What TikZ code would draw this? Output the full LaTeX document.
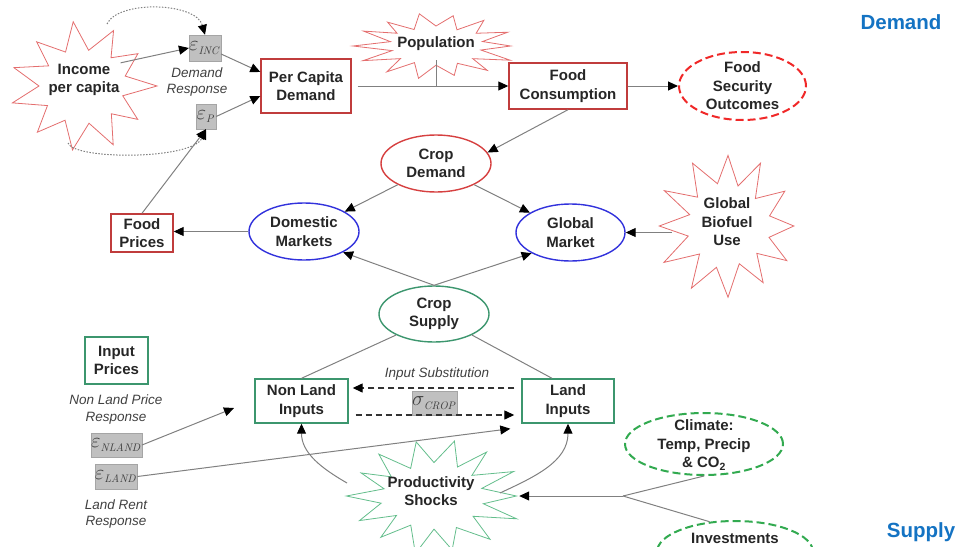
\documentclass[tikz,border=0pt]{standalone}
\usepackage[no-math]{fontspec}
\setmainfont{Liberation Sans}
\usetikzlibrary{arrows.meta,shapes.geometric}
\definecolor{starred}{RGB}{228,110,110}
\definecolor{boxred}{RGB}{192,60,60}
\definecolor{ellred}{RGB}{214,64,64}
\definecolor{dashred}{RGB}{240,40,40}
\definecolor{mktblue}{RGB}{50,50,220}
\definecolor{boxgreen}{RGB}{60,150,110}
\definecolor{stargreen}{RGB}{100,190,140}
\definecolor{dashgreen}{RGB}{50,170,80}
\definecolor{conngray}{RGB}{128,128,128}
\definecolor{titleblue}{RGB}{20,115,195}
\definecolor{epsfill}{RGB}{192,192,192}
\definecolor{epsdraw}{RGB}{165,165,165}
\definecolor{lblgray}{RGB}{64,64,64}
\newcommand\burst[7]{%
  \pgfmathsetseed{#6}%
  \draw[#7] plot[variable=\t, samples at={0,...,#5}]
   ({#1+#3*(mod(\t,2)==0 ? 1 : 0.6)*(0.88+0.14*rnd)*cos(\t*360/(#5+1))},
    {#2+#4*(mod(\t,2)==0 ? 1 : 0.6)*(0.88+0.14*rnd)*sin(\t*360/(#5+1))}) -- cycle;}
\newcommand\epsl[2]{$#1_{\scriptscriptstyle\mathit{#2}}$}
\begin{document}
\begin{tikzpicture}[x=1pt,y=-1pt,
  every node/.style={font=\fontsize{15}{18.5}\selectfont\bfseries, text=black!85, align=center},
  plain/.style={inner sep=1pt},
  redbox/.style={draw=boxred, line width=1.4pt, fill=white, inner sep=0pt},
  greenbox/.style={draw=boxgreen, line width=1.4pt, fill=white, inner sep=0pt},
  oval/.style={ellipse, line width=1.4pt, fill=white, inner sep=0pt},
  dashoval/.style={ellipse, line width=2pt, dash pattern=on 8pt off 4pt, fill=white, inner sep=0pt},
  epsbox/.style={draw=epsdraw, fill=epsfill, inner sep=0pt, text=lblgray, font=\fontsize{21}{21}\selectfont},
  ital/.style={font=\fontsize{13.5}{16.5}\selectfont\itshape, text=lblgray},
  heading/.style={font=\fontsize{20.5}{24}\selectfont\bfseries, text=titleblue},
  ln/.style={draw=conngray, line width=1pt},
  arr/.style={ln, -{Triangle[length=10pt,width=9pt,black]}},
  dotarr/.style={arr, draw=gray, dash pattern=on 1.5pt off 1.5pt},
  subarr/.style={draw=black!80, line width=1.3pt, dash pattern=on 6pt off 4pt, -{Triangle[length=10pt,width=9pt,black]}}
]
\useasboundingbox (0,0) rectangle (958,546);
% starbursts
\burst{83}{86}{73}{64}{21}{3}{draw=starred, line width=0.8pt, fill=white}
\burst{436}{46}{84}{34}{27}{5}{draw=starred, line width=0.8pt, fill=white}
\burst{728}{226}{73}{72}{23}{7}{draw=starred, line width=0.8pt, fill=white}
\burst{434}{496}{90}{58}{27}{9}{draw=stargreen, line width=0.8pt, fill=white}
% nodes
\node[plain] (inc) at (84,80) {Income\\per capita};
\node[epsbox, minimum width=30, minimum height=26] (einc) at (205,48) {\epsl{\varepsilon}{INC}};
\node[ital] (dresp) at (197,82) {Demand\\Response};
\node[epsbox, minimum width=20, minimum height=25] (ep) at (206,116.5) {\epsl{\varepsilon}{P}};
\node[redbox, minimum width=90, minimum height=54] (pcd) at (306,86) {Per Capita\\Demand};
\node[plain] (pop) at (436,44) {Population};
\node[redbox, minimum width=118, minimum height=46] (fc) at (568,86) {Food\\Consumption};
\node[dashoval, draw=dashred, minimum width=127, minimum height=68] (fso) at (742.5,86) {};
\node[plain] (fsot) at (742.5,86) {Food\\Security\\Outcomes};
\node[heading] (tdem) at (901,22.5) {Demand};
\node[oval, draw=ellred, minimum width=110, minimum height=57] (cd) at (436,163.5) {Crop\\Demand};
\node[oval, draw=mktblue, minimum width=110, minimum height=57] (dom) at (304,231.5) {Domestic\\Markets};
\node[oval, draw=mktblue, minimum width=109, minimum height=57] (glob) at (570.5,232.5) {Global\\Market};
\node[redbox, minimum width=62, minimum height=38] (fp) at (142,233) {Food\\Prices};
\node[plain, minimum width=110] (bio) at (727,222) {Global\\Biofuel\\Use};
\node[oval, draw=boxgreen, minimum width=110, minimum height=56] (cs) at (434,314) {Crop\\Supply};
\node[greenbox, minimum width=63, minimum height=47] (ip) at (116.5,360.5) {Input\\Prices};
\node[ital] (nlpr) at (116,409.5) {Non Land Price\\Response};
\node[epsbox, minimum width=45, minimum height=24] (enl) at (116.5,445) {\epsl{\varepsilon}{NLAND}};
\node[epsbox, minimum width=38, minimum height=25] (el) at (116,476.5) {\epsl{\varepsilon}{LAND}};
\node[ital] (lrr) at (116,514) {Land Rent\\Response};
\node[greenbox, minimum width=93, minimum height=44] (nl) at (301.5,401) {Non Land\\Inputs};
\node[greenbox, minimum width=92, minimum height=44] (li) at (568,401) {Land\\Inputs};
\node[ital] (isub) at (437,374) {Input Substitution};
\node[epsbox, minimum width=43, minimum height=24] (sig) at (434.5,403) {\epsl{\sigma}{CROP}};
\node[plain, minimum width=176] (ps) at (431,491) {Productivity\\Shocks};
\node[dashoval, draw=dashgreen, minimum width=158, minimum height=62] (cl) at (704,444) {};
\node[plain] (clt) at (704,445) {Climate:\\Temp, Precip\\\& CO\textsubscript{2}};
\node[dashoval, draw=dashgreen, minimum width=156, minimum height=62] (inv) at (735,552) {};
\node[plain] (invt) at (735,538) {Investments};
\node[heading] (tsup) at (921,532) {Supply};
% free ends
\coordinate (inctop) at (107,24);
\coordinate (incbot) at (68,143);
\coordinate (nlfree) at (234,408);
\coordinate (psl) at (347,483);
\coordinate (psr) at (500,493);
\coordinate (j) at (623,496);
% connectors
\draw[arr] (inc.north east) -- (einc.west);
\draw[dotarr] (inctop) .. controls (118,0) and (196,2) .. (einc.north);
\draw[dotarr] (incbot) .. controls (74,160) and (192,160) .. (ep.south);
\draw[arr] ([yshift=-6pt]einc.east) -- ([yshift=14pt]pcd.west);
\draw[arr] (ep.east) -- ([yshift=-10pt]pcd.west);
\draw[arr, shorten <=6pt] (pcd.east) -- (fc.west);
\draw[ln] ([yshift=-8pt]pop.south) -- (pop.south |- pcd.east);
\draw[arr] (fc.east) -- (fso.west);
\draw[arr] (fc.south) -- (cd.12);
\draw[arr] (cd.209) -- (dom.26);
\draw[arr] (cd.331) -- (glob.154);
\draw[arr] (dom.west) -- (fp.east |- dom.west);
\draw[arr] (fp.north) -- (ep.south);
\draw[arr] (bio.west |- glob.east) -- (glob.east);
\draw[arr] (cs.north) -- (dom.332);
\draw[arr] (cs.north) -- (glob.208);
\draw[ln] (cs.209) -- (nl.north);
\draw[ln] (cs.331) -- ([xshift=-16pt]li.north);
\draw[arr] (enl.east) -- (nlfree);
\draw[arr] (el.east) -- ([xshift=-11pt,yshift=-5pt]li.south west);
\draw[subarr] ([yshift=13pt,xshift=-7pt]li.west) -- ([yshift=13pt,xshift=4pt]nl.east);
\draw[subarr] ([yshift=-14pt,xshift=7pt]nl.east) -- ([yshift=-14pt,xshift=-7pt]li.west);
\draw[arr] (psl) to[out=150,in=-90] (nl.south);
\draw[arr] (psr) to[out=25,in=-90] (li.south);
\draw[ln] (cl.south) -- (j);
\draw[ln] (inv.130) -- (j);
\draw[arr] (j) -- (j -| ps.east);
\end{tikzpicture}
\end{document}
